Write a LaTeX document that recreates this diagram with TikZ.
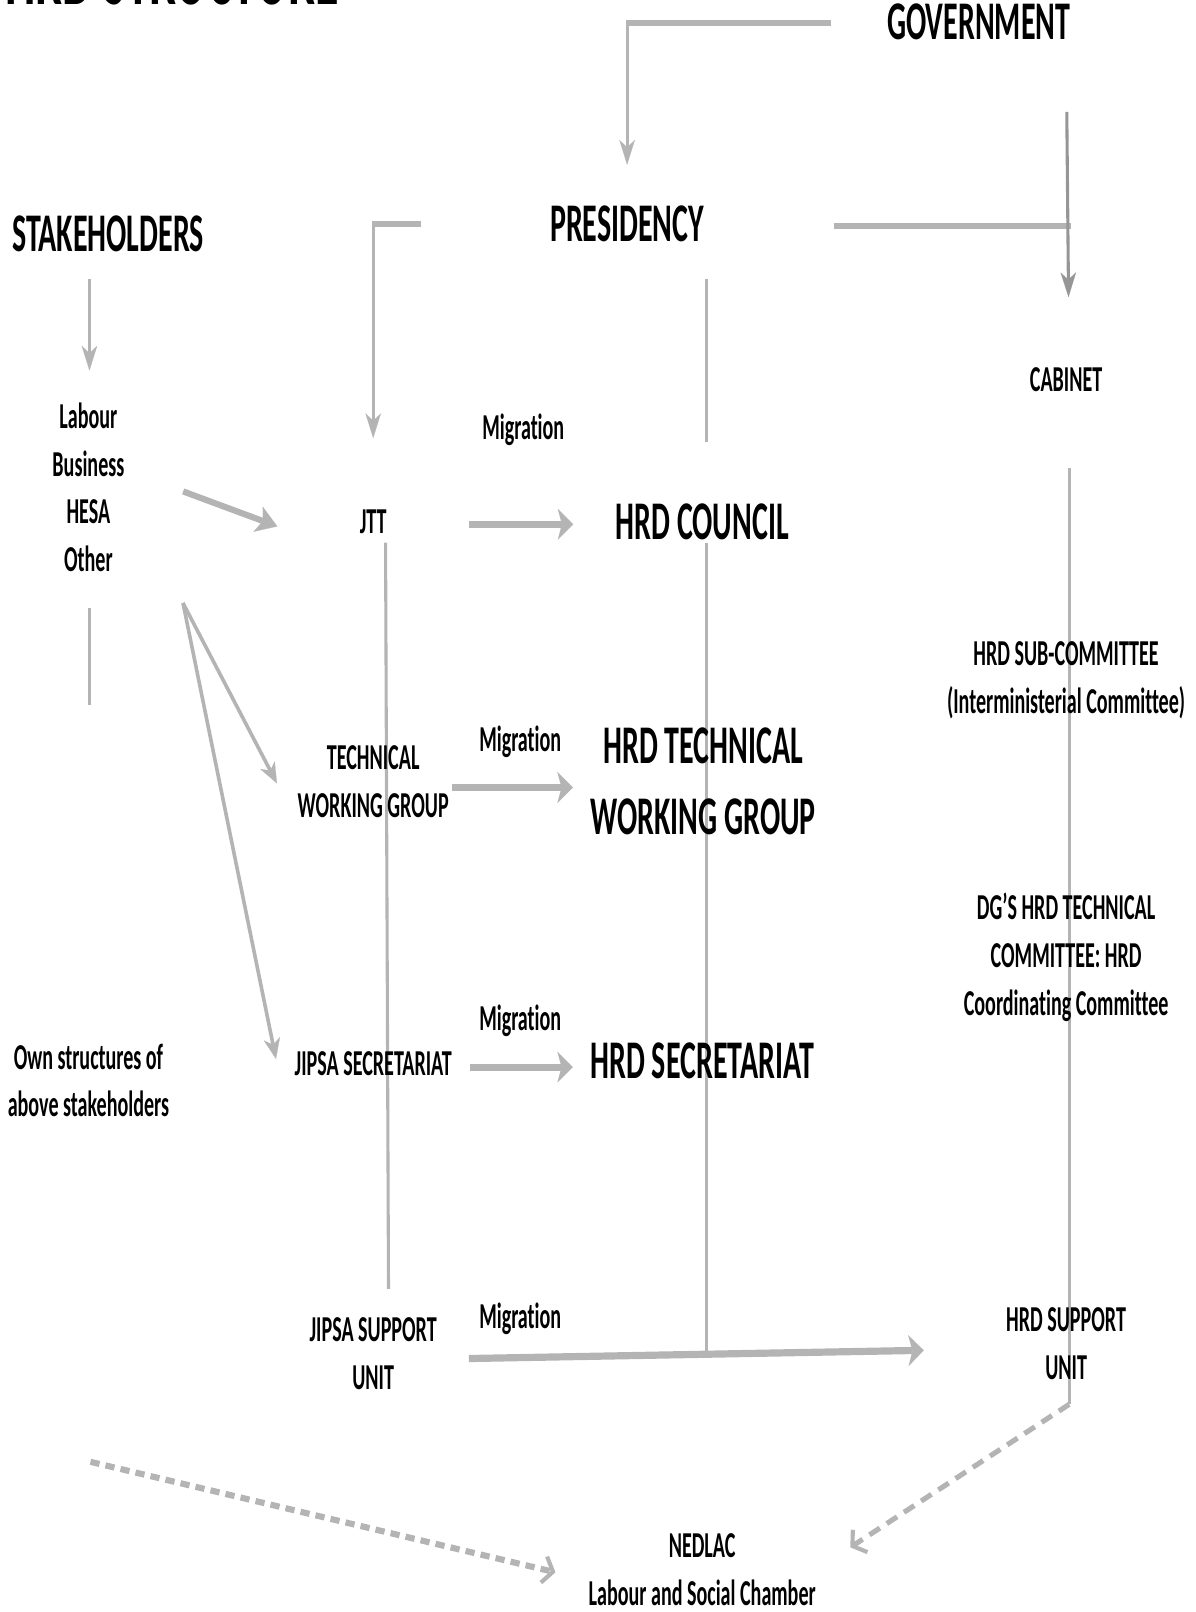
\documentclass[tikz,border=0pt]{standalone}
\usepackage{fontspec}
\setmainfont{Carlito}[FakeStretch=0.55,Ligatures=NoCommon]
\usetikzlibrary{arrows.meta}
\pgfdeclarelayer{bg}
\pgfsetlayers{bg,main}
\definecolor{lg}{RGB}{180,180,180}
\definecolor{dg}{RGB}{150,150,150}
\tikzset{
  big/.style={font=\bfseries\fontsize{53}{69}\selectfont, inner sep=0pt, align=center},
  small/.style={font=\bfseries\fontsize{35.5}{46.5}\selectfont, inner sep=0pt, align=center},
  hline/.style={draw=lg, line width=6pt},
  vline/.style={draw=lg, line width=3pt},
  migline/.style={draw=lg, line width=7pt},
  dline/.style={draw=lg, line width=6pt, dash pattern=on 9pt off 6pt},
  vtip/.style={-{Stealth[length=24pt,width=15pt,inset=7pt,line width=0.1pt]}},
  htip/.style={-{Stealth[length=15pt,width=30pt,inset=4pt,line width=0.1pt]}},
  dtip/.style={-{Stealth[length=20pt,width=26pt,inset=5pt,line width=0.1pt]}},
  dtiptwo/.style={-{Stealth[length=20pt,width=16pt,inset=6pt,line width=0.1pt]}},
  barb/.style={-{Straight Barb[length=9pt,width=26pt,line width=4pt]}}
}
\begin{document}
\begin{tikzpicture}[x=1pt,y=-1pt]
\useasboundingbox (0,0) rectangle (1163,1568);
% texts
\node[inner sep=0pt, anchor=base west, font=\bfseries\fontsize{85}{85}\selectfont] (title) at (5,4) {HRD STRUCTURE};
\node[big] (gov) at (952,21) {GOVERNMENT};
\node[big] (pres) at (610,218) {PRESIDENCY};
\node[big] (stake) at (105,227) {STAKEHOLDERS};
\node[small] (cab) at (1037,369) {CABINET};
\node[small] (lab) at (86,474) {Labour\\Business\\HESA\\Other};
\node[small] (mig1) at (509,418) {Migration};
\node[small] (jtt) at (363,508) {JTT};
\node[big] (hrdc) at (683,508) {HRD COUNCIL};
\node[small] (hsc) at (1037,662) {HRD SUB-COMMITTEE\\(Interministerial Committee)};
\node[small] (mig2) at (506,722) {Migration};
\node[small] (twg) at (363,760) {TECHNICAL\\WORKING GROUP};
\node[big] (htwg) at (684,760) {HRD TECHNICAL\\WORKING GROUP};
\node[small] (dg) at (1037,931) {DG’S HRD TECHNICAL\\COMMITTEE: HRD\\Coordinating Committee};
\node[small] (mig3) at (506,993) {Migration};
\node[big] (hsec) at (683,1032) {HRD SECRETARIAT};
\node[small] (own) at (86,1051) {Own structures of\\above stakeholders};
\node[small] (jsec) at (363,1035) {JIPSA SECRETARIAT};
\node[small] (mig4) at (506,1283) {Migration};
\node[small] (jsu) at (363,1317) {JIPSA SUPPORT\\UNIT};
\node[small] (hsu) at (1037,1307) {HRD SUPPORT\\UNIT};
\node[small] (ned) at (683,1527) {NEDLAC\\Labour and Social Chamber};
% named free ends
\coordinate (cx) at (687,1318);
\coordinate (bend) at (1040,1366);
\coordinate (lf) at ([xshift=92pt,yshift=-30pt]lab.south);
\coordinate (ds) at ([xshift=2pt,yshift=-335pt]own.south);
\begin{pgfonlayer}{bg}
% Government -> Presidency
\draw[hline] ([xshift=-54pt,yshift=-1pt]gov.west) -- ([xshift=-1.5pt,yshift=-1pt]pres.north |- gov.west);
\draw[vline,vtip,shorten >=40pt] ([yshift=2pt]pres.north |- gov.west) -- (pres.north);
% Presidency -> JTT
\draw[hline] ([xshift=-125pt]pres.west) -- ([xshift=-1.5pt]jtt.north |- pres.west);
\draw[vline,vtip,shorten >=70pt] ([yshift=3pt]jtt.north |- pres.west) -- (jtt.north);
% Presidency -> Cabinet
\draw[hline] ([xshift=126pt,yshift=-2pt]pres.east) -- ([xshift=4.5pt,yshift=-2pt]cab.north |- pres.east);
% Government -> Cabinet
\draw[vline,draw=dg,vtip,shorten <=70pt,shorten >=68pt] ([xshift=85pt]gov.south) -- ([xshift=3pt]cab.north);
% Presidency -- HRD Council
\draw[vline,shorten <=36pt,shorten >=60pt] ([xshift=77pt]pres.south) -- ([xshift=4pt]hrdc.north);
% Stakeholders -> Labour
\draw[vline,vtip,shorten <=27pt,shorten >=31pt] ([xshift=-18pt]stake.south) -- ([xshift=1pt]lab.north);
% Labour -> JTT / TWG / JIPSA secretariat
\draw[migline,line width=6pt,dtip] ([xshift=57pt,yshift=-4pt]lab.east) -- ([xshift=-80pt,yshift=-4pt]jtt.west);
\draw[vline,line width=3.5pt,dtiptwo] (lf) -- ([xshift=-20pt,yshift=-2pt]twg.west);
\draw[vline,line width=3.5pt,dtiptwo] (lf) -- ([xshift=-18pt,yshift=5pt]jsec.west);
% Labour -- own structures
\draw[vline,shorten <=35pt,shorten >=329pt] ([xshift=1pt]lab.south) -- ([xshift=1pt]own.north);
% JTT -- JIPSA support
\draw[vline,shorten <=8pt,shorten >=28pt] ([xshift=12pt]jtt.south) -- ([xshift=15pt]jsu.north);
% Migration arrows
\draw[migline,htip,shorten <=80pt,shorten >=41pt] ([yshift=-2pt]jtt.east) -- ([yshift=-2pt]hrdc.west);
\draw[migline,htip,shorten <=3pt,shorten >=17pt] ([yshift=-6pt]twg.east) -- ([yshift=-6pt]htwg.west);
\draw[migline,htip,shorten <=18pt,shorten >=17pt] ([yshift=-3pt]jsec.east) -- ([yshift=-6pt]hsec.west);
\draw[migline,htip,shorten <=31pt,shorten >=80pt] ([yshift=-5pt]jsu.east) -- ([yshift=-5pt]hsu.west);
% HRD council vertical
\draw[vline,shorten <=2pt] ([xshift=4pt]hrdc.south) -- (cx);
% Cabinet vertical and dashed to NEDLAC
\draw[vline,shorten <=74pt] ([xshift=3pt]cab.south) -- (bend);
\draw[dline,line width=5pt,dash pattern=on 12pt off 8pt,barb,shorten >=40pt] (bend) -- (ned.east);
% Stakeholders dashed to NEDLAC
\draw[dline,barb,shorten >=33pt] (ds) -- ([yshift=-10pt]ned.west);
\end{pgfonlayer}
\end{tikzpicture}
\end{document}
